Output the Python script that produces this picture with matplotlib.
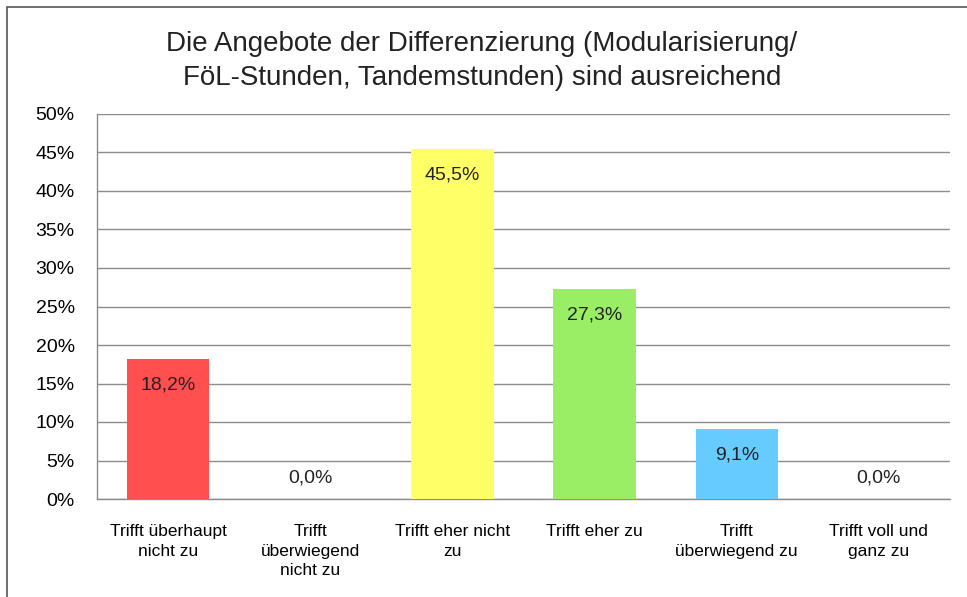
import matplotlib
matplotlib.use('AGG')
import matplotlib.pyplot as plt
from matplotlib.patches import Rectangle

# Kategorien und Werte (Prozent)
categories = ['Trifft überhaupt\nnicht zu', 'Trifft\nüberwiegend\nnicht zu',
              'Trifft eher nicht\nzu', 'Trifft eher zu',
              'Trifft\nüberwiegend zu', 'Trifft voll und\nganz zu']
values = [18.2, 0.0, 45.5, 27.3, 9.1, 0.0]
colors = ['#FF4F4F', '#FF4F4F', '#FFFF66', '#99EE66', '#66CCFF', '#66CCFF']
yticks = [0, 5, 10, 15, 20, 25, 30, 35, 40, 45, 50]

title = 'Die Angebote der Differenzierung (Modularisierung/\nFöL-Stunden, Tandemstunden) sind ausreichend'

plt.rcParams['font.family'] = ['Liberation Sans', 'DejaVu Sans']

fig = plt.figure(figsize=(9.67, 5.97), dpi=100)
W, H = 967, 597
ax = fig.add_axes([97 / W, 1 - 499 / H, (950 - 97) / W, (499 - 114) / H])

x = list(range(len(values)))
ax.bar(x, values, width=0.58, color=colors, zorder=3)

for xi, v in zip(x, values):
    label = '{:.1f}%'.format(v).replace('.', ',')
    off = -26 if v > 0 else 21
    ax.annotate(label, (xi, v), xytext=(0, off), textcoords='offset pixels',
                ha='center', va='center', fontsize=14, color='#222222', zorder=4)

ax.set_xlim(-0.5, len(values) - 0.5)
ax.set_ylim(0, 50)
ax.set_yticks(yticks)
ax.set_yticklabels(['{}%'.format(t) for t in yticks], fontsize=14)
ax.yaxis.grid(True, color='#8C8C8C', linewidth=1.0, zorder=0)
ax.set_xticks(x)
ax.set_xticklabels(categories, fontsize=12.5, linespacing=1.38)
ax.tick_params(axis='x', length=0, pad=18)
ax.tick_params(axis='y', length=0, pad=16)

for s in ['top', 'right']:
    ax.spines[s].set_visible(False)
for s in ['left', 'bottom']:
    ax.spines[s].set_color('#8C8C8C')
    ax.spines[s].set_linewidth(1.0)

fig.text(482 / W, 1 - 61 / H, title, ha='center', va='center', fontsize=20,
         linespacing=1.36, color='#222222')

# Rahmen des Diagramms
fig.patches.append(Rectangle((7 / W, -0.1), 1.2, 1 - 7 / H + 0.1,
                             transform=fig.transFigure, fill=False,
                             edgecolor='#555555', linewidth=1.2))

fig.savefig('out.png', dpi=100)
